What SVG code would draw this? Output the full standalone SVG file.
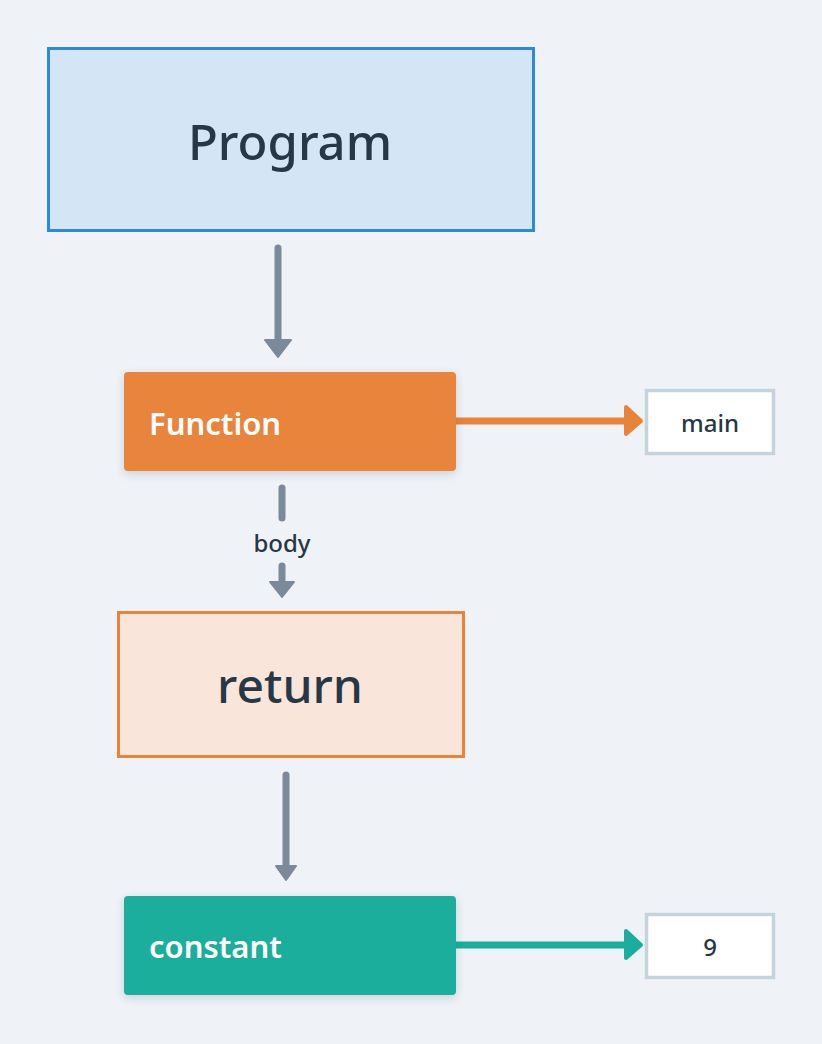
<svg xmlns="http://www.w3.org/2000/svg" width="822" height="1044" viewBox="0 0 822 1044">
<defs>
<filter id="sh" x="-10%" y="-20%" width="120%" height="150%">
<feDropShadow dx="0" dy="3" stdDeviation="4" flood-color="#1f3a52" flood-opacity="0.18"/>
</filter>
</defs>
<style>
.lbl{font-family:"Noto Sans","DejaVu Sans",sans-serif;fill:#263746;font-weight:500}
.wt{font-family:"Noto Sans","DejaVu Sans",sans-serif;fill:#ffffff;font-weight:600}
.gl{stroke:#7b8a9a;stroke-width:7;stroke-linecap:round;fill:none}
.val{fill:#ffffff;stroke:#c5d3dd;stroke-width:3.5}
</style>
<rect width="822" height="1044" fill="#eff3f7"/>
<g id="connectors">
<line class="gl" x1="278" y1="248" x2="278" y2="340"/>
<polygon points="265,340 291,340 278,357" fill="#7b8a9a" stroke="#7b8a9a" stroke-width="2" stroke-linejoin="round"/>
<line class="gl" x1="282" y1="488" x2="282" y2="518"/>
<text class="lbl" x="282" y="552" font-size="24" text-anchor="middle">body</text>
<line class="gl" x1="282" y1="566" x2="282" y2="582"/>
<polygon points="270,582 294,582 282,597" fill="#7b8a9a" stroke="#7b8a9a" stroke-width="2" stroke-linejoin="round"/>
<line class="gl" x1="286" y1="775" x2="286" y2="866"/>
<polygon points="276,866 296,866 286,880" fill="#7b8a9a" stroke="#7b8a9a" stroke-width="2" stroke-linejoin="round"/>
<line x1="456" y1="421" x2="628" y2="421" stroke="#e8843a" stroke-width="7"/>
<polygon points="626,407 641,421 626,434" fill="#e8843a" stroke="#e8843a" stroke-width="4" stroke-linejoin="round"/>
<line x1="456" y1="945" x2="628" y2="945" stroke="#1aae9c" stroke-width="7"/>
<polygon points="626,931 641,945 626,958" fill="#1aae9c" stroke="#1aae9c" stroke-width="4" stroke-linejoin="round"/>
</g>
<g id="program">
<rect x="48.5" y="48.5" width="485" height="182" fill="#d4e5f5" stroke="#2b8ad9" stroke-width="3"/>
<text class="lbl" x="290" y="160" font-size="49" text-anchor="middle">Program</text>
</g>
<g id="function">
<rect x="124" y="372" width="332" height="99" rx="4" fill="#e8843a" filter="url(#sh)"/>
<text class="wt" x="149" y="435" font-size="31">Function</text>
</g>
<g id="main">
<rect class="val" x="646.5" y="390.5" width="127" height="63"/>
<text class="lbl" x="710" y="432" font-size="24" text-anchor="middle">main</text>
</g>
<g id="return">
<rect x="118.5" y="612.5" width="345" height="144" fill="#f9e5da" stroke="#e8843a" stroke-width="3"/>
<text class="lbl" x="290" y="703" font-size="48" text-anchor="middle">return</text>
</g>
<g id="constant">
<rect x="124" y="896" width="332" height="99" rx="4" fill="#1aae9c" filter="url(#sh)"/>
<text class="wt" x="149" y="958" font-size="31">constant</text>
</g>
<g id="nine">
<rect class="val" x="646.5" y="914.5" width="127" height="63"/>
<text class="lbl" x="710" y="956" font-size="24" text-anchor="middle">9</text>
</g>
</svg>
